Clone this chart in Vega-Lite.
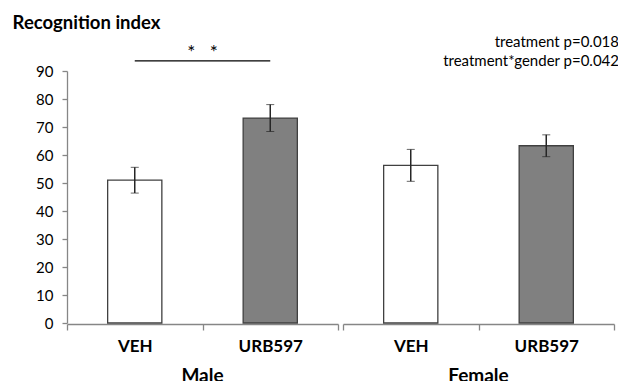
{
  "$schema": "https://vega.github.io/schema/vega-lite/v6.json",
  "autosize": {"type": "pad"},
  "padding": {"left": 12, "top": 13, "right": 0, "bottom": 0},
  "background": "white",
  "title": {"text": "Recognition index", "anchor": "start", "frame": "bounds", "font": "Lato", "fontSize": 18.5, "fontWeight": "bold", "color": "#000", "offset": 3, "dx": -23},
  "data": {"values": [
    {"gender": "Male", "treatment": "VEH", "mean": 51.0, "se": 4.6},
    {"gender": "Male", "treatment": "URB597", "mean": 73.2, "se": 4.8},
    {"gender": "Female", "treatment": "VEH", "mean": 56.3, "se": 5.7},
    {"gender": "Female", "treatment": "URB597", "mean": 63.3, "se": 3.9}
  ]},
  "facet": {"column": {"field": "gender", "type": "nominal", "sort": ["Male", "Female"],
    "header": {"title": null, "labelOrient": "bottom", "labelFont": "Lato", "labelFontSize": 19, "labelFontWeight": "bold", "labelColor": "#000", "labelPadding": 13}}},
  "spacing": 0,
  "spec": {
    "width": 271,
    "height": 252,
    "layer": [
      {
        "mark": {"type": "bar", "width": {"band": 0.4}, "stroke": "#404040", "strokeWidth": 1.3},
        "encoding": {
          "x": {"field": "treatment", "type": "nominal", "sort": ["VEH", "URB597"],
            "scale": {"paddingInner": 0, "paddingOuter": 0},
            "axis": {"title": null, "labelFont": "Lato", "labelFontSize": 17, "labelFontWeight": "bold", "labelColor": "#000", "labelAngle": 0, "labelPadding": 8, "tickBand": "extent", "tickSize": 6, "labelBaseline": "top"}},
          "y": {"field": "mean", "type": "quantitative",
            "scale": {"domain": [0, 90], "nice": false, "zero": true},
            "axis": {"title": null, "values": [0, 10, 20, 30, 40, 50, 60, 70, 80, 90]}},
          "color": {"field": "treatment", "type": "nominal", "scale": {"domain": ["VEH", "URB597"], "range": ["#ffffff", "#808080"]}, "legend": null}
        }
      },
      {
        "mark": {"type": "errorbar", "ticks": {"size": 8, "color": "#262626", "strokeWidth": 1.5}, "rule": {"color": "#262626", "strokeWidth": 1.5}},
        "encoding": {
          "x": {"field": "treatment", "type": "nominal", "sort": ["VEH", "URB597"]},
          "y": {"field": "mean", "type": "quantitative", "axis": {"title": null, "values": [0, 10, 20, 30, 40, 50, 60, 70, 80, 90]}},
          "yError": {"field": "se"}
        }
      },
      {
        "transform": [{"filter": "datum.gender === 'Male' && datum.treatment === 'VEH'"}],
        "mark": {"type": "rule", "color": "#000", "strokeWidth": 1.2},
        "encoding": {
          "x": {"datum": "VEH"},
          "x2": {"datum": "URB597"},
          "y": {"datum": 93.6, "axis": {"title": null, "values": [0, 10, 20, 30, 40, 50, 60, 70, 80, 90]}}
        }
      },
      {
        "transform": [{"filter": "datum.gender === 'Male' && datum.treatment === 'VEH'"}],
        "mark": {"type": "text", "font": "Lato", "fontSize": 19, "color": "#000", "align": "center", "baseline": "middle"},
        "encoding": {
          "x": {"datum": "VEH", "bandPosition": 1},
          "y": {"datum": 96.3, "axis": {"title": null, "values": [0, 10, 20, 30, 40, 50, 60, 70, 80, 90]}},
          "text": {"value": "*\u00a0\u00a0\u00a0*"}
        }
      },
      {
        "transform": [{"filter": "datum.gender === 'Female' && datum.treatment === 'URB597'"}],
        "mark": {"type": "text", "font": "Lato", "fontSize": 15, "color": "#000", "align": "right", "baseline": "middle", "dx": 5},
        "encoding": {
          "x": {"datum": "URB597", "bandPosition": 1},
          "y": {"datum": 100.3, "axis": {"title": null, "values": [0, 10, 20, 30, 40, 50, 60, 70, 80, 90]}},
          "text": {"value": "treatment p=0.018"}
        }
      },
      {
        "transform": [{"filter": "datum.gender === 'Female' && datum.treatment === 'URB597'"}],
        "mark": {"type": "text", "font": "Lato", "fontSize": 15, "color": "#000", "align": "right", "baseline": "middle", "dx": 5},
        "encoding": {
          "x": {"datum": "URB597", "bandPosition": 1},
          "y": {"datum": 93.6, "axis": {"title": null, "values": [0, 10, 20, 30, 40, 50, 60, 70, 80, 90]}},
          "text": {"value": "treatment*gender p=0.042"}
        }
      }
    ]
  },
  "config": {
    "view": {"stroke": null},
    "axis": {"domainWidth": 1.3, "tickWidth": 1.3, "domainColor": "#868686", "tickColor": "#868686", "grid": false},
    "axisY": {"domain": true, "ticks": true, "labelOverlap": false, "labelFont": "Lato", "labelFontSize": 15, "labelColor": "#000", "tickSize": 5, "labelPadding": 9, "grid": false}
  }
}
